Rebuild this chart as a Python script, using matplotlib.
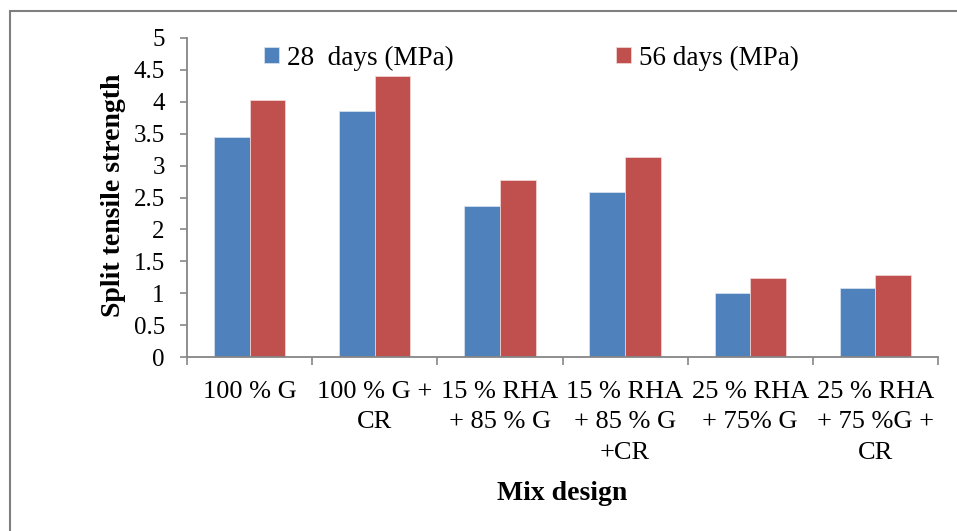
import matplotlib
matplotlib.use('Agg')
import matplotlib.pyplot as plt
import numpy as np
from matplotlib.patches import Rectangle

# Data
mixes = ['100 % G', '100 % G +\nCR', '15 % RHA\n+ 85 % G', '15 % RHA\n+ 85 % G\n+CR',
         '25 % RHA\n+ 75% G', '25 % RHA\n+ 75 %G +\nCR']
days28 = [3.45, 3.86, 2.37, 2.58, 1.01, 1.08]
days56 = [4.03, 4.40, 2.77, 3.14, 1.24, 1.28]
series_names = ['28  days (MPa)', '56 days (MPa)']
colors = ['#4F81BD', '#C0504D']

plt.rcParams['font.family'] = ['Liberation Serif', 'DejaVu Serif']
AXIS_GRAY = '#868686'

fig = plt.figure(figsize=(9.57, 5.31), dpi=100)
ax = fig.add_axes([187 / 957, 1 - 357 / 531, (938 - 187) / 957, (357 - 38) / 531])

x = np.arange(len(mixes))
w = 0.285
ax.bar(x - w / 2, days28, w, color=colors[0], edgecolor='#dce6f2', linewidth=0.5, label=series_names[0])
ax.bar(x + w / 2, days56, w, color=colors[1], edgecolor='#f2dcdb', linewidth=0.5, label=series_names[1])

ax.set_xlim(-0.5, len(mixes) - 0.5)
ax.set_ylim(0, 5)
ax.set_yticks(np.arange(0, 5.01, 0.5))
ax.set_yticklabels(['0', '0.5', '1', '1.5', '2', '2.5', '3', '3.5', '4', '4.5', '5'])
ax.set_xticks(x)
ax.set_xticklabels(mixes, linespacing=1.5)
ax.set_xticks(np.arange(-0.5, len(mixes), 1), minor=True)

for s in ['top', 'right']:
    ax.spines[s].set_visible(False)
for s in ['left', 'bottom']:
    ax.spines[s].set_color(AXIS_GRAY)
    ax.spines[s].set_linewidth(1.3)

ax.tick_params(axis='y', direction='out', length=5, width=1.2, color=AXIS_GRAY, labelsize=18, pad=11)
ax.tick_params(axis='x', which='major', length=0, labelsize=19, pad=17)
ax.tick_params(axis='x', which='minor', direction='out', length=6, width=1.2, color=AXIS_GRAY)

fig.text(113 / 957, 1 - 195 / 531, 'Split tensile strength', rotation=90, fontsize=20,
         fontweight='bold', ha='center', va='center')
fig.text(562 / 957, 1 - 493 / 531, 'Mix design', fontsize=20, fontweight='bold',
         ha='center', va='center')

ax.legend(ncol=2, loc='center left', bbox_to_anchor=((264 - 187) / 751, 1 - 20 / 319),
          frameon=False, fontsize=19.5, handlelength=0.55, handleheight=0.55,
          handletextpad=0.3, columnspacing=6.0, borderpad=0, borderaxespad=0)

# outer chart border
fig.patches.append(Rectangle((10 / 957, -0.2), 2, 1.2 - 11 / 531, transform=fig.transFigure,
                             fill=False, edgecolor='#7f7f7f', linewidth=1.5))

fig.savefig('out.png', dpi=100)
